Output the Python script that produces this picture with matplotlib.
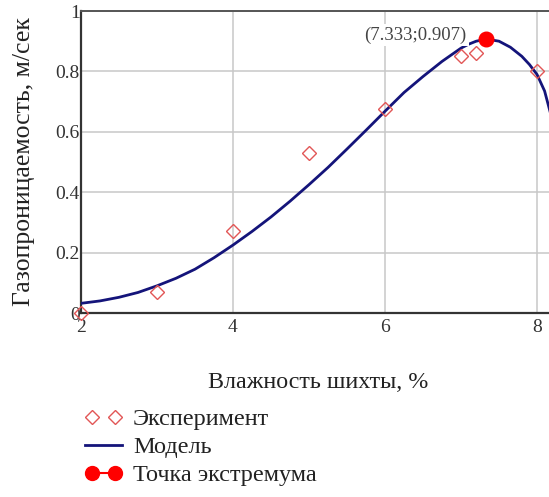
import matplotlib
matplotlib.use("Agg")
import matplotlib.pyplot as plt
from matplotlib.lines import Line2D
from matplotlib.legend_handler import HandlerLine2D
from matplotlib.ticker import FuncFormatter

plt.rcParams['font.family'] = ['Liberation Serif', 'DejaVu Serif']

# experimental points: moisture of the charge (%) vs gas permeability (m/s)
exp_x = [2.0, 3.0, 4.0, 5.0, 6.0, 7.0, 7.2, 8.0]
exp_y = [0.0, 0.07, 0.27, 0.53, 0.675, 0.85, 0.86, 0.80]

# model curve
model_x = [2.0, 2.25, 2.5, 2.75, 3.0, 3.25, 3.5, 3.75, 4.0, 4.25, 4.5, 4.75,
           5.0, 5.25, 5.5, 5.75, 6.0, 6.25, 6.5, 6.75, 7.0, 7.1, 7.2, 7.333,
           7.5, 7.65, 7.8, 7.9, 8.0, 8.1, 8.2, 8.3]
model_y = [0.032, 0.040, 0.052, 0.068, 0.090, 0.115, 0.145, 0.183, 0.225,
           0.270, 0.318, 0.370, 0.425, 0.482, 0.543, 0.605, 0.668, 0.730,
           0.783, 0.833, 0.877, 0.890, 0.900, 0.907, 0.900, 0.880, 0.850,
           0.823, 0.790, 0.735, 0.640, 0.530]

# extremum of the model
ext_x = 7.333
ext_y = 0.907

x_ticks = [2, 4, 6, 8, 10]
y_ticks = [0, 0.2, 0.4, 0.6, 0.8, 1.0]

fig = plt.figure(figsize=(5.49, 4.97), dpi=100)
ax = fig.add_axes([81 / 549, 1 - 313 / 497, 608 / 549, 302 / 497])

exp_color = '#e25656'
model_color = '#14147a'
ext_color = '#ff0000'

ax.plot(model_x, model_y, color=model_color, lw=2.0, zorder=3)
ax.plot(exp_x, exp_y, ls='none', marker='D', ms=7.6, mfc='none',
        mec=exp_color, mew=1.0, zorder=4, clip_on=False)
ax.plot([ext_x], [ext_y], ls='none', marker='o', ms=10.5, color=ext_color,
        zorder=5)

ax.annotate('(%.3f;%.3f)' % (ext_x, ext_y), (ext_x, ext_y),
            xytext=(-14, 3), textcoords='offset points', ha='right',
            va='center', fontsize=13.5, color='#444444', zorder=4.5,
            bbox=dict(boxstyle='square,pad=0.12', fc='white', ec='none'))

ax.set_xlim(2, 10)
ax.set_ylim(0, 1)
ax.set_xticks(x_ticks)
ax.set_yticks(y_ticks)
ax.yaxis.set_major_formatter(FuncFormatter(lambda v, p: '%g' % v))
ax.tick_params(length=0, labelsize=14, labelcolor='#333333')
ax.tick_params(axis='y', pad=1.0)
ax.tick_params(axis='x', pad=4)
ax.grid(True, color='#c8c8c8', lw=1.1)
ax.set_axisbelow(True)

for side in ['left', 'bottom']:
    ax.spines[side].set_color('#333333')
    ax.spines[side].set_linewidth(1.6)
ax.spines['top'].set_color('#555555')
ax.spines['top'].set_linewidth(1.4)
ax.spines['right'].set_visible(False)

fig.text(24 / 549, 1 - 162 / 497, 'Газопроницаемость, м/сек', rotation=90,
         ha='center', va='center', fontsize=18.5, color='#222222')
fig.text(318 / 549, 1 - 382 / 497, 'Влажность шихты, %', ha='center',
         va='center', fontsize=17.3, color='#222222')

handles = [
    Line2D([], [], ls='none', marker='D', ms=7.6, mfc='none', mec=exp_color,
           mew=1.0),
    Line2D([], [], color=model_color, lw=2.0),
    Line2D([], [], color=ext_color, lw=1.5, marker='o', ms=10),
]
labels = ['Эксперимент', 'Модель', 'Точка экстремума']
fig.legend(handles, labels, loc='upper left',
           bbox_to_anchor=(85 / 549, 1 - 408 / 497), frameon=False,
           numpoints=2, fontsize=17.5, handlelength=1.52, handletextpad=0.45,
           labelspacing=0.25, borderaxespad=0, borderpad=0,
           labelcolor='#222222',
           handler_map={handles[1]: HandlerLine2D(numpoints=1)})

fig.savefig('out.png', dpi=100)
